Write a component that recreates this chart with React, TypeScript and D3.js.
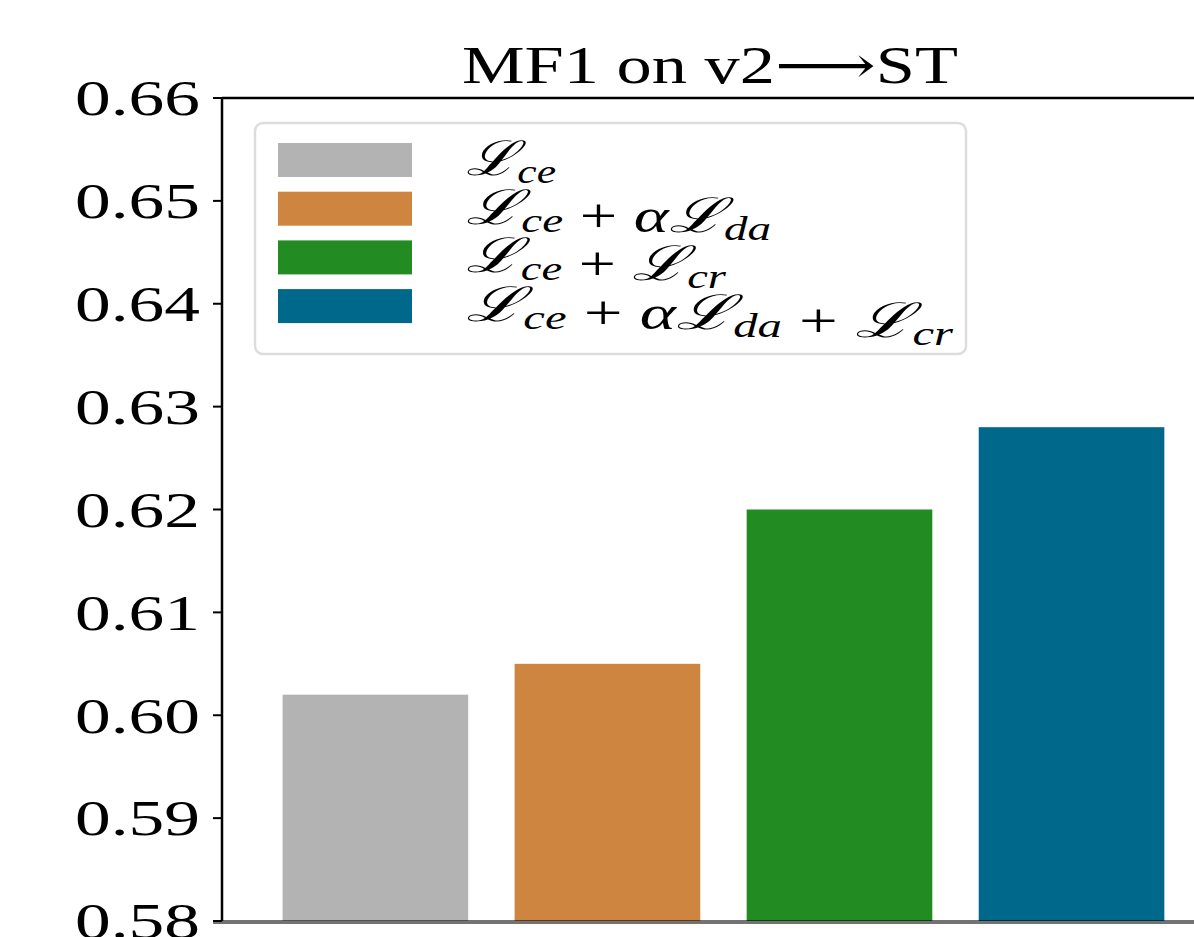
import React, { useEffect, useRef } from 'react';
import * as d3 from 'd3';

// bar values
const methods = ['ce', 'ce+da', 'ce+cr', 'ce+da+cr'];
const scores = [0.602, 0.605, 0.62, 0.628];
const colors = ['#b3b3b3', '#cd853f', '#228b22', '#00688b'];
const yTicks = [0.58, 0.59, 0.6, 0.61, 0.62, 0.63, 0.64, 0.65, 0.66];
// legend labels as tokens: "L_xx" is a script L with subscript
const legendTokens = [
  ['L_ce'],
  ['L_ce', '+', 'α', 'L_da'],
  ['L_ce', '+', 'L_cr'],
  ['L_ce', '+', 'α', 'L_da', '+', 'L_cr'],
];
const title = 'MF1 on v2⟶ST';

const W = 1194;
const H = 937;
// the original figure is stretched sideways, so texts get fixed widths
const legendWidths = [90, 305, 260, 487];

const App = () => {
  const svgRef = useRef(null);

  useEffect(() => {
    const svg = d3.select(svgRef.current);
    svg.selectAll('*').remove();

    const left = 222, right = 1198, top = 98, bottom = 921;
    const x = d3.scaleLinear().domain([-0.661, 3.545]).range([left, right]);
    const y = d3.scaleLinear().domain([0.58, 0.66]).range([bottom, top]);
    const serif = '"Liberation Serif", "DejaVu Serif", serif';

    // bars
    svg
      .selectAll('.bar')
      .data(scores)
      .join('rect')
      .attr('class', 'bar')
      .attr('x', (d, i) => x(i - 0.4))
      .attr('y', (d) => y(d))
      .attr('width', (d, i) => x(i + 0.4) - x(i - 0.4))
      .attr('height', (d) => y(0.58) - y(d))
      .attr('fill', (d, i) => colors[i]);

    // spines
    svg.append('line').attr('x1', left).attr('x2', left).attr('y1', top).attr('y2', bottom)
      .attr('stroke', '#000').attr('stroke-width', 2.5);
    svg.append('line').attr('x1', left).attr('x2', right).attr('y1', top).attr('y2', top)
      .attr('stroke', '#000').attr('stroke-width', 2.5);
    svg.append('line').attr('x1', 213).attr('x2', W).attr('y1', bottom + 1).attr('y2', bottom + 1)
      .attr('stroke', '#000').attr('stroke-opacity', 0.55).attr('stroke-width', 4);

    // y ticks
    const tick = svg.selectAll('.ytick').data(yTicks).join('g').attr('class', 'ytick');
    tick.append('line').attr('x1', 213).attr('x2', left).attr('y1', (d) => y(d)).attr('y2', (d) => y(d))
      .attr('stroke', '#000').attr('stroke-width', 2);
    tick
      .append('text')
      .attr('x', 75)
      .attr('y', (d) => y(d))
      .attr('dy', '0.34em')
      .attr('textLength', 125)
      .attr('lengthAdjust', 'spacingAndGlyphs')
      .attr('font-family', serif)
      .attr('font-size', 51)
      .text((d) => d3.format('.2f')(d));

    // title
    svg
      .append('text')
      .attr('x', 462)
      .attr('y', 83)
      .attr('textLength', 496)
      .attr('lengthAdjust', 'spacingAndGlyphs')
      .attr('font-family', serif)
      .attr('font-size', 52)
      .text(title);

    // legend
    svg.append('rect').attr('x', 255).attr('y', 123).attr('width', 711).attr('height', 231).attr('rx', 8)
      .attr('fill', '#fff').attr('fill-opacity', 0.8).attr('stroke', '#ddd').attr('stroke-width', 2.5);

    const rowY = (i) => 160 + i * 48.7;
    methods.forEach((m, i) => {
      svg.append('rect').attr('x', 278).attr('y', rowY(i) - 17).attr('width', 134).attr('height', 34)
        .attr('fill', colors[i]);
      const t = svg
        .append('text')
        .attr('x', 466)
        .attr('y', rowY(i) + 15)
        .attr('textLength', legendWidths[i])
        .attr('lengthAdjust', 'spacingAndGlyphs')
        .attr('font-family', serif)
        .attr('font-size', 48);
      legendTokens[i].forEach((tok) => {
        if (tok.startsWith('L_')) {
          t.append('tspan').attr('font-family', '"DejaVu Serif", serif').attr('font-style', 'italic').text('ℒ');
          t.append('tspan').attr('font-style', 'italic').attr('font-size', 34).attr('dy', 8).text(tok.slice(2));
          t.append('tspan').attr('dy', -8).text('');
        } else if (tok === '+') {
          t.append('tspan').attr('font-weight', 300).text(' + ');
        } else {
          t.append('tspan').attr('font-style', 'italic').text(tok);
        }
      });
    });
  }, []);

  return (
    <svg
      ref={svgRef}
      width={W}
      height={H}
      style={{ position: 'absolute', left: 0, top: 0, background: '#fff' }}
    />
  );
};

export default App;
